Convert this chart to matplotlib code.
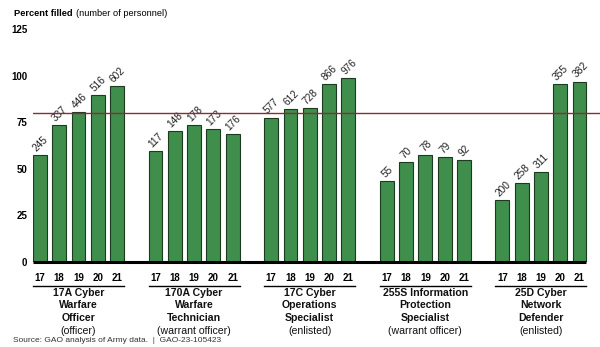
import matplotlib
matplotlib.use("Agg")
import matplotlib.pyplot as plt

plt.rcParams['font.family'] = ['Liberation Sans', 'DejaVu Sans']

years = ["17", "18", "19", "20", "21"]
group_titles = [
    ["17A Cyber", "Warfare", "Officer"],
    ["170A Cyber", "Warfare", "Technician"],
    ["17C Cyber", "Operations", "Specialist"],
    ["255S Information", "Protection", "Specialist"],
    ["25D Cyber", "Network", "Defender"],
]
group_types = ["(officer)", "(warrant officer)", "(enlisted)", "(warrant officer)", "(enlisted)"]
percent_filled = [
    [57.5, 73.5, 80.5, 89.5, 94.5],
    [59.5, 70.5, 73.5, 71.5, 68.5],
    [77.5, 82.0, 82.5, 95.5, 98.8],
    [43.5, 53.5, 57.3, 56.5, 54.5],
    [33.3, 42.3, 48.3, 95.5, 96.8],
]
personnel = [
    [245, 337, 446, 516, 602],
    [117, 148, 178, 173, 176],
    [577, 612, 728, 866, 976],
    [55, 70, 78, 79, 92],
    [200, 258, 311, 355, 382],
]
target = 80
yticks = [0, 25, 50, 75, 100, 125]

bar_color = "#3f8e4c"
edge_color = "#1c3a22"
line_color = "#8c2a3a"

fig = plt.figure(figsize=(6.0, 3.47), dpi=100)
ax = fig.add_axes([33/600, 85/347, 1 - 33/600, (262-29)/347])

bw = 0.72
slot = len(years) + 1
xs_all, labels_all = [], []
for g, (vals, counts) in enumerate(zip(percent_filled, personnel)):
    xs = [g*slot + i for i in range(len(years))]
    ax.bar(xs, vals, width=bw, color=bar_color, edgecolor=edge_color, linewidth=0.8, zorder=2)
    for x, v, c in zip(xs, vals, counts):
        ax.annotate(str(c), (x, v), xytext=(0.5, 1.2), textcoords="offset points",
                    rotation=45, ha="center", va="bottom", fontsize=7.3, color="#222222")
    xs_all += xs
    labels_all += years

left = xs_all[0] - bw/2
right = xs_all[-1] + bw/2
ax.set_xlim(left, left + (600-33)/19.27)
ax.set_ylim(0, 125)

ax.axhline(target, color=line_color, linewidth=1.0, zorder=3)
ax.plot([left, right], [0, 0], color="black", linewidth=2.2, zorder=4, clip_on=False, solid_capstyle="butt")

for s in ax.spines.values():
    s.set_visible(False)
ax.set_yticks(yticks)
ax.set_yticklabels([str(t) for t in yticks], fontsize=7, fontweight="bold")
ax.tick_params(axis="y", length=0, pad=4)
ax.set_xticks(xs_all)
ax.set_xticklabels(labels_all, fontsize=7, fontweight="bold")
ax.tick_params(axis="x", length=0, pad=8)

# group underlines and labels
trans = ax.get_xaxis_transform()
for g in range(len(group_titles)):
    x0 = g*slot - bw/2
    x1 = g*slot + len(years) - 1 + bw/2
    xc = (x0 + x1) / 2
    line_y = -(286-262)/233
    ax.plot([x0, x1], [line_y, line_y], transform=trans, color="black", linewidth=1.0, clip_on=False)
    lines = group_titles[g] + [group_types[g]]
    ys = [293, 305.5, 318, 330.5]
    for k, (txt, yp) in enumerate(zip(lines, ys)):
        ax.text(xc, -(yp-262)/233, txt, transform=trans, ha="center", va="center",
                fontsize=7.6, fontweight="bold" if k < 3 else "normal", color="#111111")

t1 = fig.text(14/600, 1 - 14/347, "Percent filled", fontsize=6.7, fontweight="bold", ha="left", va="center")
fig.canvas.draw()
bb = t1.get_window_extent()
fig.text((bb.x1 + 3)/600, 1 - 14/347, "(number of personnel)", fontsize=6.7, ha="left", va="center")
fig.text(13/600, 1 - 341/347, "Source: GAO analysis of Army data.  |  GAO-23-105423", fontsize=6, ha="left", va="center", color="#333333")

fig.savefig("out.png", dpi=100)
